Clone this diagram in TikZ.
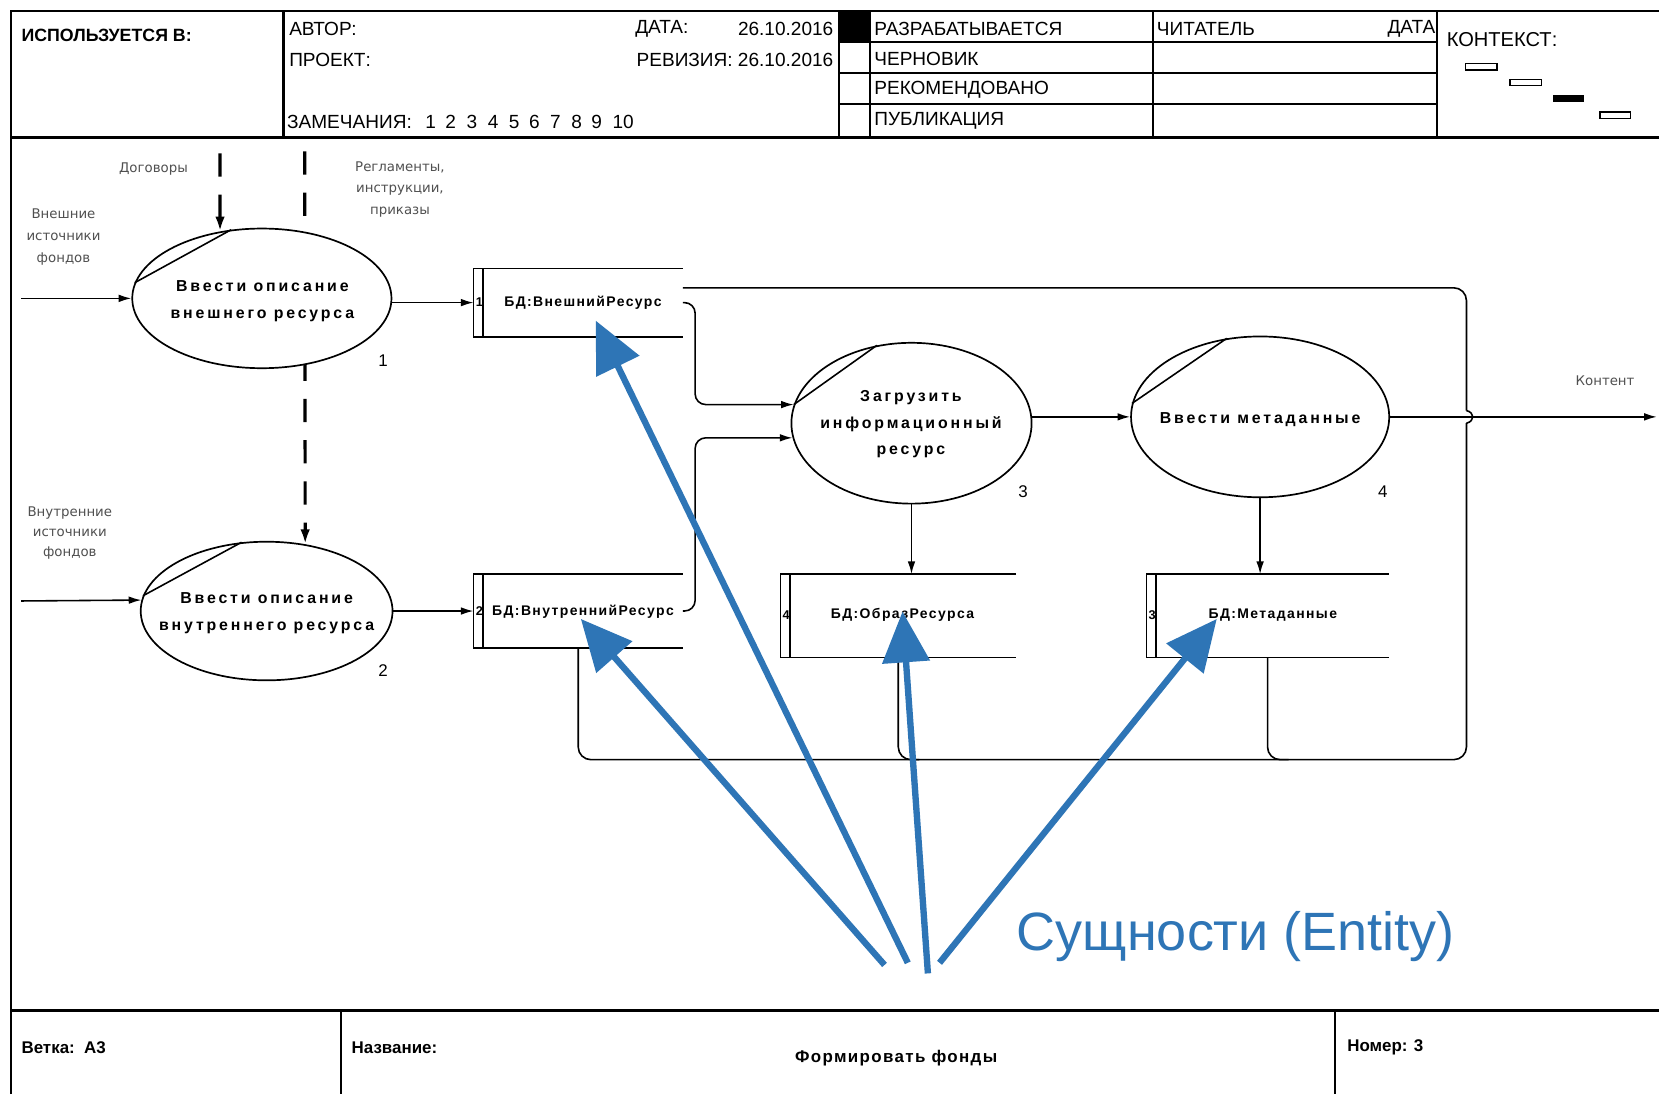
\documentclass[tikz,border=0pt]{standalone}
\usepackage{fontspec}
\setmainfont{Liberation Sans}
\newfontfamily\lblfont{DejaVu Sans}
\usetikzlibrary{shapes.geometric,arrows.meta,fit,backgrounds,calc}
\definecolor{entblue}{RGB}{46,117,182}
\definecolor{lblgray}{RGB}{80,80,80}
\begin{document}
\begin{tikzpicture}[x=0.5pt,y=-0.5pt,
  frame/.style={line width=1pt},
  flow/.style={line width=0.75pt},
  arr/.style={flow,-{Latex[length=6pt,width=3.6pt]}},
  dsh/.style={line width=1.5pt, dash pattern=on 11pt off 8.5pt},
  proc/.style={ellipse, draw, line width=0.8pt, fill=white, inner sep=0pt},
  ptext/.style={font={\fontsize{7.5}{12.5}\selectfont\bfseries\addfontfeature{LetterSpace=18}}, align=center, inner sep=0pt},
  pnum/.style={font=\fontsize{8}{10}\selectfont, inner sep=0pt},
  stext/.style={font={\fontsize{6.6}{8}\selectfont\bfseries\addfontfeature{LetterSpace=10}}, inner sep=0pt},
  snum/.style={font=\fontsize{6}{8}\selectfont\bfseries, inner sep=0pt},
  lbl/.style={font={\lblfont\fontsize{6.3}{10}\selectfont}, text=lblgray, align=center, inner sep=0pt},
  hdr/.style={font=\fontsize{9}{10}\selectfont, anchor=west, inner sep=0pt},
  ftr/.style={font=\fontsize{8}{10}\selectfont\bfseries, anchor=west, inner sep=0pt},
  bluearr/.style={draw=entblue, line width=3pt, -{Triangle[length=24pt,width=22pt]}},
  entity/.style={font=\fontsize{25.5}{30}\selectfont, text=entblue, inner sep=0pt}
]
\useasboundingbox (0,0) rectangle (1568,1034);

% ---------- frame, header, footer ----------
\draw[frame] (10,1034) -- (10,10) -- (1568,10);
\draw[frame] (10,130) -- (1568,130);
\draw[line width=1.6pt] (10,955) -- (1568,955);
\foreach \x in {268,793,822,1090,1358} \draw[frame] (\x,10) -- (\x,130);
\foreach \y in {40,69,98} \draw[frame] (793,\y) -- (1358,\y);
\fill (793,10) rectangle (822,40);
\foreach \x in {322,1262} \draw[frame] (\x,955) -- (\x,1034);

\node[hdr, font=\fontsize{8.4}{10}\selectfont\bfseries] (usedin) at (20,33) {ИСПОЛЬЗУЕТСЯ В:};
\node[hdr] (author) at (273,27) {АВТОР:};
\node[hdr] (project) at (273,57) {ПРОЕКТ:};
\node[hdr] (notes) at (271,115) {ЗАМЕЧАНИЯ:};
\foreach \n/\x in {1/407,2/426,3/446,4/466,5/486,6/505,7/525,8/545,9/564,10/589}
  \node[hdr, anchor=center] (note\n) at (\x,115) {\n};
\node[hdr] (datelbl) at (600,27) {ДАТА:};
\node[hdr, anchor=east] (dateval) at (788,27) {26.10.2016};
\node[hdr, anchor=east] (rev) at (788,57) {РЕВИЗИЯ: 26.10.2016};
\node[hdr] (st1) at (826,27) {РАЗРАБАТЫВАЕТСЯ};
\node[hdr] (st2) at (826,56) {ЧЕРНОВИК};
\node[hdr] (st3) at (826,85) {РЕКОМЕНДОВАНО};
\node[hdr] (st4) at (826,114) {ПУБЛИКАЦИЯ};
\node[hdr] (reader) at (1093,27) {ЧИТАТЕЛЬ};
\node[hdr, anchor=east] (rdate) at (1357,27) {ДАТА};
\node[hdr, font=\fontsize{9.5}{11}\selectfont] (context) at (1367,37) {КОНТЕКСТ:};
\draw[flow] (1385,60) rectangle (1415,66);
\draw[flow] (1427,75) rectangle (1457,81);
\fill (1468,90) rectangle (1497,96);
\draw[flow] (1512,106) rectangle (1541,112);

\node[ftr] (branch) at (20,990) {Ветка:\ \ А3};
\node[ftr] (title) at (332,990) {Название:};
\node[ftr, anchor=center, font={\fontsize{8}{10}\selectfont\bfseries\addfontfeature{LetterSpace=8}}] (titleval) at (847,1000) {Формировать фонды};
\node[ftr] (number) at (1273,990) {Номер: 3};

% ---------- processes ----------
\node[proc, minimum width=122.5pt, minimum height=66pt] (p1) at (247.5,282) {};
\node[proc, minimum width=119pt, minimum height=65.5pt] (p2) at (252,577.5) {};
\node[proc, minimum width=113.5pt, minimum height=76pt] (p3) at (861.5,400) {};
\node[proc, minimum width=122pt, minimum height=76pt] (p4) at (1191,394) {};

\draw[flow] (p1.173) -- (p1.114);
\draw[flow] (p2.173) -- (p2.110);
\draw[flow] (p3.171) -- (p3.114);
\draw[flow] (p4.174) -- (p4.113);

\node[ptext] (p1t) at (248,284.5) {Ввести описание\\внешнего ресурса};
\node[ptext] (p2t) at (252,579.5) {Ввести описание\\внутреннего ресурса};
\node[ptext] (p3t) at (861,401) {Загрузить\\информационный\\ресурс};
\node[ptext] (p4t) at (1191,397) {Ввести метаданные};

\node[pnum] (p1n) at (362,341) {1};
\node[pnum] (p2n) at (362,634) {2};
\node[pnum] (p3n) at (967,465) {3};
\node[pnum] (p4n) at (1307,465) {4};

% ---------- stores ----------
\node[fit={(448,254) (645,318)}, inner sep=0pt] (s1) {};
\node[fit={(448,543) (645,612)}, inner sep=0pt] (s2) {};
\node[fit={(738,543) (960,621)}, inner sep=0pt] (s3) {};
\node[fit={(1084,543) (1312,621)}, inner sep=0pt] (s4) {};
\foreach \s in {s1,s2,s3,s4}{
  \draw[flow] (\s.north east) -- (\s.north west) -- (\s.south west) -- (\s.south east);
  \draw[flow] ([xshift=4.5pt]\s.north west) -- ([xshift=4.5pt]\s.south west);
}
\node[stext] (s1t) at (551,286) {БД:ВнешнийРесурс};
\node[stext] (s2t) at (551,578) {БД:ВнутреннийРесурс};
\node[stext] (s3t) at (853,581) {БД:ОбразРесурса};
\node[stext] (s4t) at (1203,581) {БД:Метаданные};
\node[snum] (s1n) at (453,286) {1};
\node[snum] (s2n) at (453,578) {2};
\node[snum] (s3n) at (743,581) {4};
\node[snum] (s4n) at (1089,581) {3};

% ---------- external labels ----------
\node[lbl] (dog) at (145,160) {Договоры};
\node[lbl, font={\lblfont\fontsize{6.3}{10}\selectfont}] (regl) at (378,179) {Регламенты,\\инструкции,\\приказы};
\node[lbl, font={\lblfont\fontsize{6.3}{10.5}\selectfont}] (ext) at (60,224) {Внешние\\источники\\фондов};
\node[lbl, font={\lblfont\fontsize{6.3}{9.5}\selectfont}] (int) at (66,504) {Внутренние\\источники\\фондов};
\node[lbl] (content) at (1517,360) {Контент};

% ---------- connectors ----------
\coordinate (src1) at (20,282);
\coordinate (src2) at (20,568);
\coordinate (ctl1) at (208,145);
\coordinate (ctl2) at (288,143);
\coordinate (out) at (1566,394);
\coordinate (bustop) at (1386,272);
\coordinate (busbot) at (1386,718);
\coordinate (bridgeA) at (1386,388);
\coordinate (bridgeB) at (1386,400);

\draw[arr] (src1) -- (p1.west);
\draw[arr] (src2) -- (p2.175);
\draw[dsh, -{Latex[length=7pt,width=4.5pt]}] (ctl1) -- (p1.122);
\begin{pgfonlayer}{background}
\fill[white] (0,0) rectangle (1568,1034);
\draw[dsh, -{Latex[length=7pt,width=4.5pt]}] (ctl2) -- (p2.60);
\end{pgfonlayer}
\draw[arr] (p1.east |- s1.west) -- (s1.west);
\draw[arr] (p2.east) -- (s2.west);
\draw[arr, rounded corners=5pt] (s1.east) -| (657,340) |- (p3.171);
\draw[arr, rounded corners=5pt] (s2.east) -| (657,500) |- (p3.187);
\draw[arr] (p3.east |- p4.west) -- (p4.west);
\draw[arr] (p4.east) -- (out);
\draw[arr] (p3.south) -- (p3.south |- s3.north);
\draw[arr] (p4.south) -- (p4.south |- s4.north);

\draw[flow, rounded corners=6pt] (s1.east |- bustop) -- (bustop) -- (bridgeA);
\draw[flow] (bridgeA) .. controls (1394,390) and (1394,398) .. (bridgeB);
\draw[flow, rounded corners=6pt] (bridgeB) -- (busbot) -- (s2.south |- busbot) -- (s2.south);
\draw[flow, rounded corners=6pt] (s3.south) -- (s3.south |- busbot) -- ++(20,0);
\draw[flow, rounded corners=6pt] (s4.south) -- (s4.south |- busbot) -- ++(20,0);

% ---------- entity pointers ----------
\coordinate (ta) at (858,910);
\coordinate (tb) at (836,912);
\coordinate (tc) at (877,920);
\coordinate (td) at (888,910);
\draw[bluearr] (ta) -- ([shift={(12,17)}]s1t.center);
\draw[bluearr] (tb) -- ([shift={(-2,7)}]s2t.center);
\draw[bluearr] (tc) -- ([shift={(0,-3)}]s3t.center);
\draw[bluearr] (td) -- ([shift={(-53,4)}]s4t.center);
\node[entity] (ent) at (1168,885) {Сущности (Entity)};
\end{tikzpicture}
\end{document}
